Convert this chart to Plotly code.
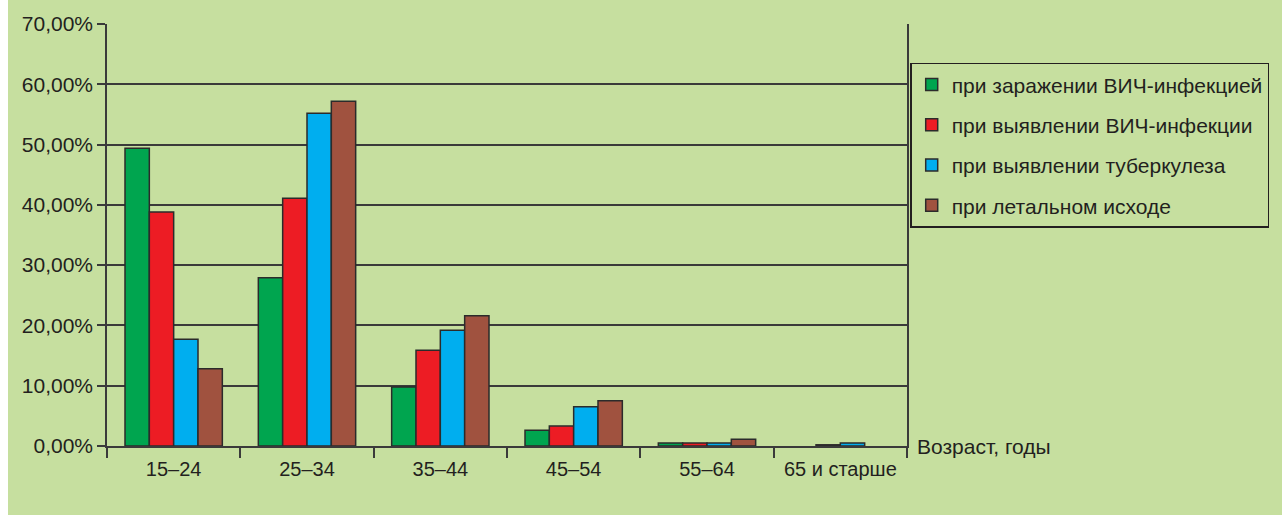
import plotly.graph_objects as go

categories = ["15–24", "25–34", "35–44", "45–54", "55–64", "65 и старше"]
series_names = [
    "при заражении ВИЧ-инфекцией",
    "при выявлении ВИЧ-инфекции",
    "при выявлении туберкулеза",
    "при летальном исходе",
]
infection = [0.494, 0.279, 0.098, 0.026, 0.005, 0.0]
hiv_detect = [0.388, 0.411, 0.159, 0.033, 0.005, 0.002]
tb_detect = [0.177, 0.552, 0.192, 0.065, 0.005, 0.005]
death = [0.128, 0.572, 0.216, 0.075, 0.011, 0.0]
colors = ["#00a54f", "#ed1c24", "#00aeef", "#a0523f"]

BG = "#c6df9f"
FONT = "Liberation Sans, Arial, sans-serif"

fig = go.Figure()
for name, vals, col in zip(series_names, [infection, hiv_detect, tb_detect, death], colors):
    fig.add_trace(go.Bar(
        x=categories, y=vals, name=name, legendgroup=name,
        marker=dict(color=col, line=dict(color="#2b2b2b",
                                         width=[1.5 if v > 0 else 0 for v in vals])),
    ))

fig.update_layout(
    width=1274, height=515,
    margin=dict(l=99, r=375, t=24, b=69),
    paper_bgcolor=BG, plot_bgcolor=BG,
    separators=", ",
    barmode="group", bargap=0.27, bargroupgap=0,
    font=dict(family=FONT, size=20, color="#231f20"),
    showlegend=True,
    legend=dict(
        x=1.004, y=0.908, xanchor="left", yanchor="top",
        bgcolor=BG, bordercolor="#231f20", borderwidth=1.5,
        font=dict(family=FONT, size=21, color="#231f20"),
        traceorder="grouped", tracegroupgap=10,
        itemclick=False,
    ),
    xaxis=dict(
        type="category", tickson="boundaries",
        ticks="outside", ticklen=10, tickwidth=1.5, tickcolor="#3a3a3a",
        showline=True, linecolor="#3a3a3a", linewidth=1.5,
        showgrid=False, tickfont=dict(size=20), ticklabelstandoff=4,
    ),
    yaxis=dict(
        range=[0, 0.7], tickvals=[0, 0.1, 0.2, 0.3, 0.4, 0.5, 0.6, 0.7],
        tickformat=".2%", ticks="outside", ticklen=8, tickwidth=1.5,
        tickcolor="#3a3a3a", showline=True, mirror=True,
        linecolor="#3a3a3a", linewidth=1.5,
        showgrid=True, gridcolor="#3a3a3a", gridwidth=1.5,
        zeroline=False, tickfont=dict(size=21),
    ),
    annotations=[dict(
        text="Возраст, годы", xref="paper", yref="paper",
        x=1.01, y=0, xanchor="left", yanchor="middle",
        showarrow=False, font=dict(family=FONT, size=21, color="#231f20"),
    )],
)

fig.write_html("out.html", post_script="document.body.style.margin='0 0 0 8px';")
